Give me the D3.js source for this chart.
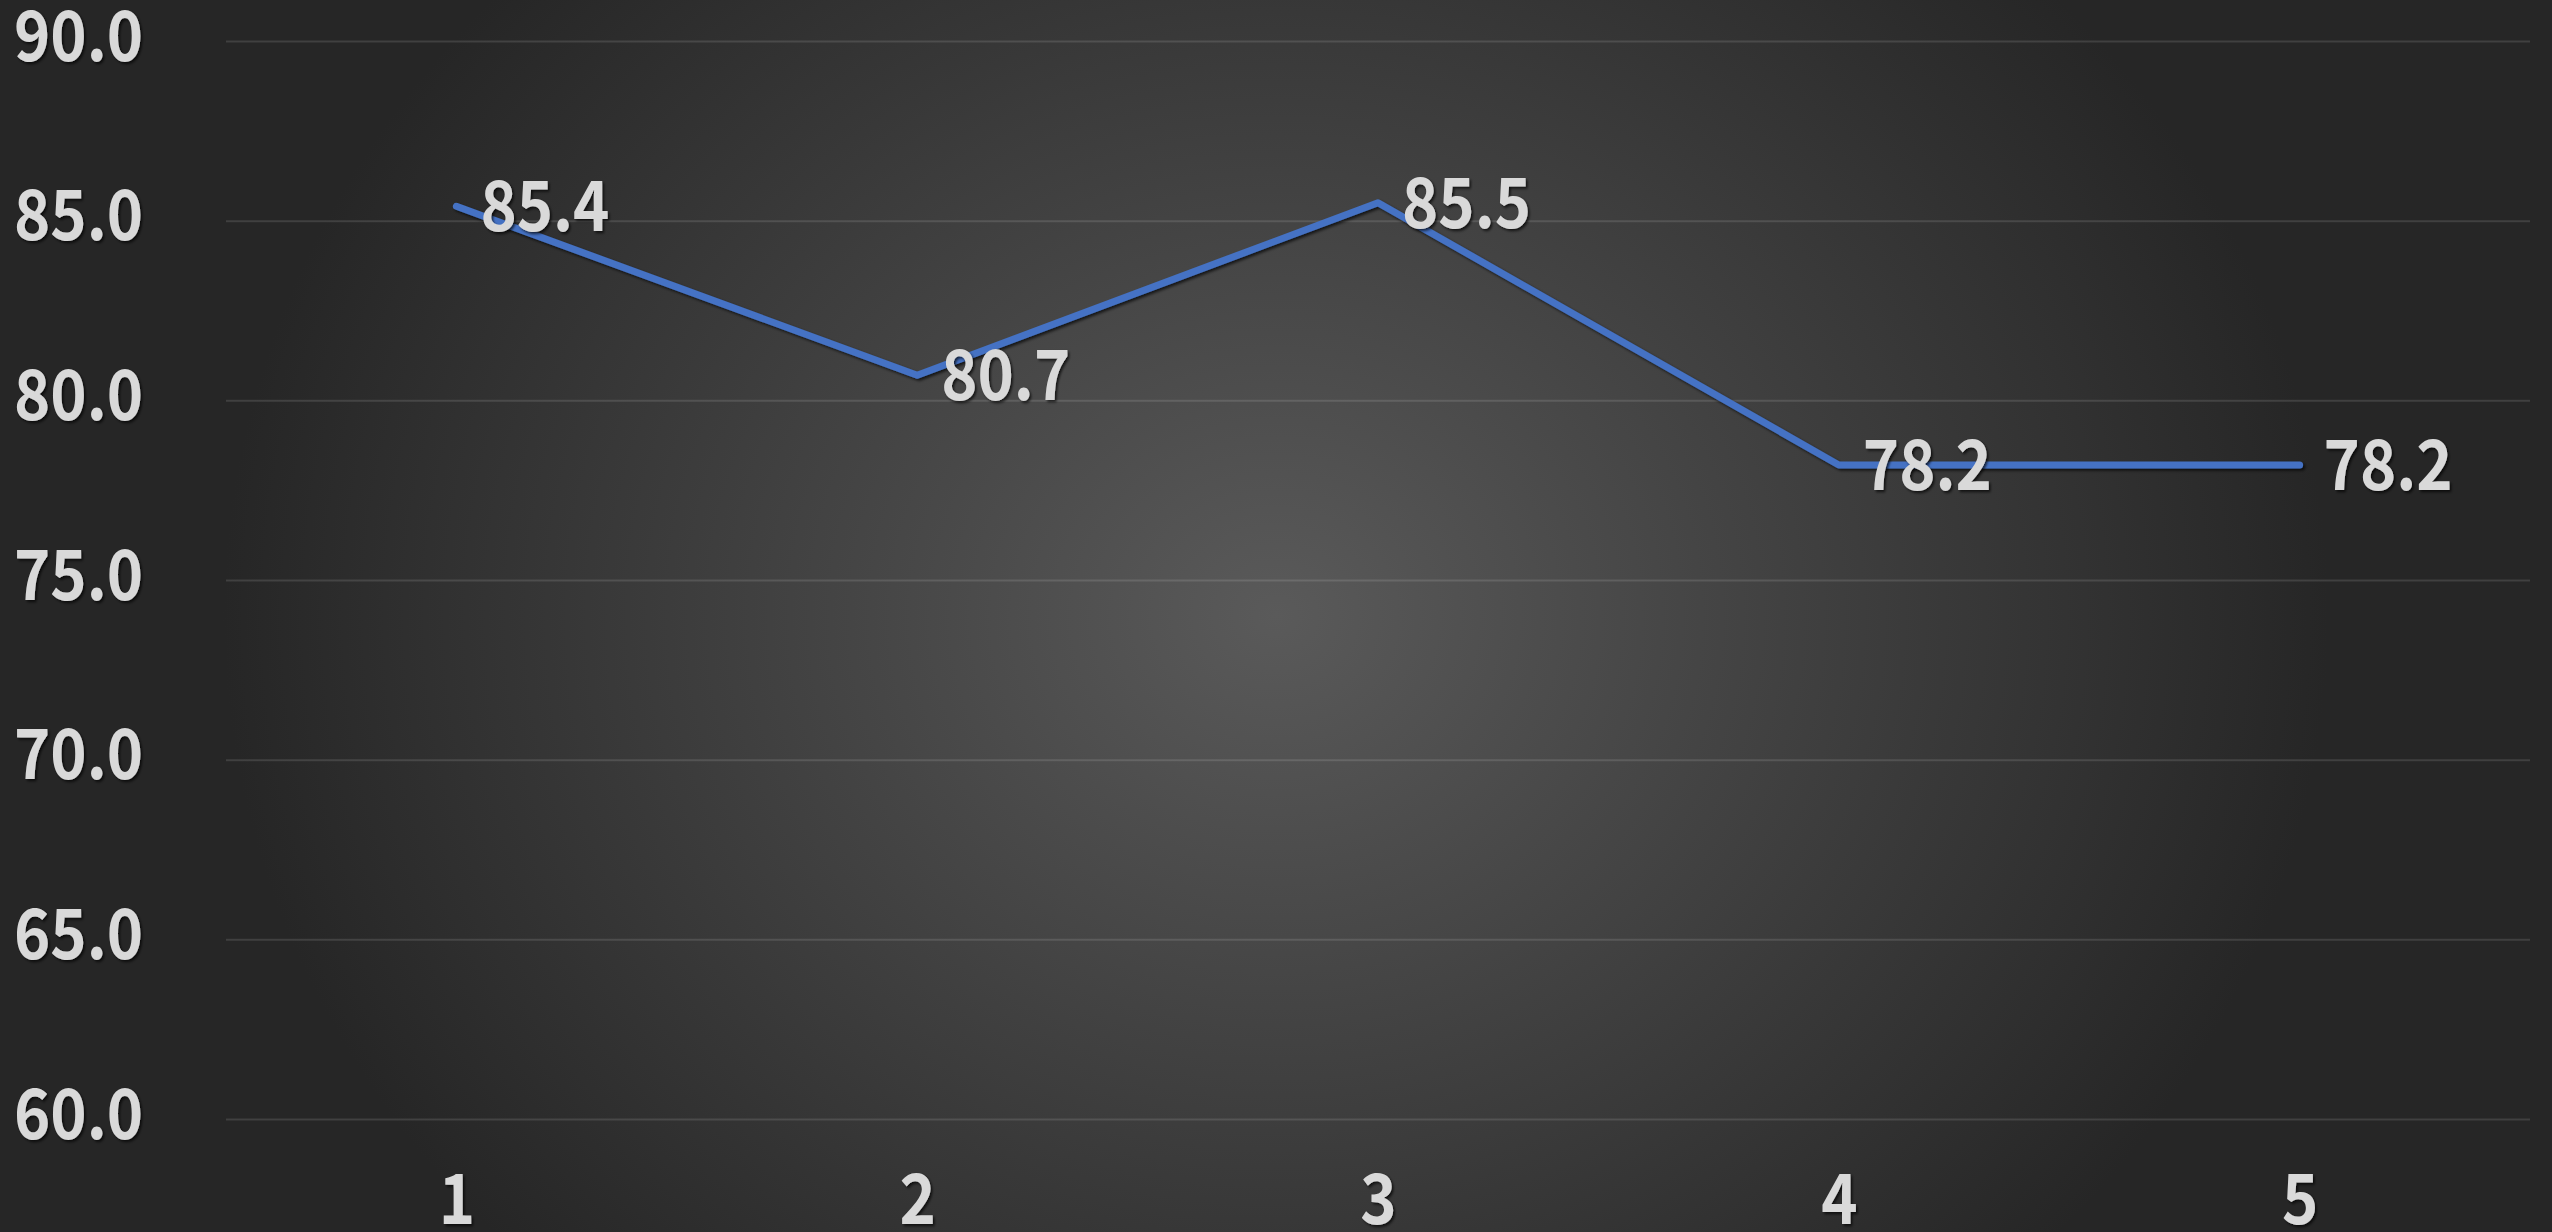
<!DOCTYPE html>
<html>
<head>
<meta charset="utf-8">
<script src="https://cdn.jsdelivr.net/npm/d3@7"></script>
<style>
  html, body { margin: 0; padding: 0; background: #2b2b2b; }
  #chart { width: 2552px; height: 1232px; }
</style>
</head>
<body>
<div id="chart"></div>
<script>
// data
var categories = ["1", "2", "3", "4", "5"];
var values = [85.4, 80.7, 85.5, 78.2, 78.2];
var y_ticks = [60, 65, 70, 75, 80, 85, 90];

var view_width = 2552;
var view_height = 1232;
var plot = {left: 226, right: 2530, top: 41, bottom: 1119};
var font = "'Noto Sans CJK JP', 'Noto Sans', sans-serif";
var squeeze = 'scale(0.88,1)';

var svg = d3.select('#chart')
    .append('svg')
        .attr('width', view_width)
        .attr('height', view_height);

var defs = svg.append('defs');

// radial background, lighter around the middle
var grad = defs.append('radialGradient')
    .attr('id', 'bg')
    .attr('cx', '0.5').attr('cy', '0.5').attr('r', '0.75')
    .attr('gradientTransform', 'translate(0.5,0.5) scale(0.55,1) translate(-0.5,-0.5)');
grad.append('stop').attr('offset', '0%').attr('stop-color', '#5a5a5a');
grad.append('stop').attr('offset', '100%').attr('stop-color', '#262626');

var shadow = defs.append('filter')
    .attr('id', 'shadow')
    .attr('x', '-10%').attr('y', '-10%').attr('width', '130%').attr('height', '140%');
shadow.append('feDropShadow')
    .attr('dx', 2).attr('dy', 2).attr('stdDeviation', 1.5)
    .attr('flood-color', '#000').attr('flood-opacity', 0.7);

svg.append('rect')
    .attr('width', view_width)
    .attr('height', view_height)
    .attr('fill', 'url(#bg)');

var x_scale = d3.scalePoint()
    .domain(categories)
    .range([plot.left, plot.right])
    .padding(0.5);
var y_scale = d3.scaleLinear()
    .domain([60, 90])
    .range([plot.bottom, plot.top]);

// gridlines
svg.append('g')
    .attr('class', 'grid')
    .attr('transform', 'translate(' + plot.left + ',0)')
    .call(d3.axisLeft(y_scale).tickValues(y_ticks).tickSize(-(plot.right - plot.left)).tickFormat(''))
    .call(function(g) { g.select('.domain').remove(); })
    .selectAll('line')
        .attr('stroke', '#ffffff')
        .attr('stroke-opacity', 0.12)
        .attr('stroke-width', 2);

// y axis labels
var y_axis = svg.append('g')
    .attr('transform', 'translate(143,0)')
    .call(d3.axisLeft(y_scale).tickValues(y_ticks).tickSize(0).tickPadding(0).tickFormat(d3.format('.1f')));
y_axis.select('.domain').remove();
y_axis.selectAll('text')
    .attr('fill', '#d9d9d9')
    .attr('font-family', font)
    .attr('font-size', 70)
    .attr('font-weight', 700)
    .attr('x', 0)
    .attr('dy', 19)
    .attr('transform', squeeze)
    .attr('filter', 'url(#shadow)');

// x axis labels
var x_axis = svg.append('g')
    .attr('transform', 'translate(0,1224)')
    .call(d3.axisBottom(x_scale).tickSize(0).tickPadding(0));
x_axis.select('.domain').remove();
x_axis.selectAll('text')
    .attr('fill', '#d9d9d9')
    .attr('font-family', font)
    .attr('font-size', 70)
    .attr('font-weight', 700)
    .attr('y', 0)
    .attr('dy', 0)
    .attr('transform', squeeze)
    .attr('filter', 'url(#shadow)');

var points = categories.map(function(c, i) { return {cat: c, value: values[i]}; });

var valueline = d3.line()
    .x(function(d) { return x_scale(d.cat); })
    .y(function(d) { return y_scale(d.value); });

svg.append('path')
    .datum(points)
    .attr('fill', 'none')
    .attr('stroke', '#4472C4')
    .attr('stroke-width', 7)
    .attr('stroke-linecap', 'round')
    .attr('stroke-linejoin', 'round')
    .attr('filter', 'url(#shadow)')
    .attr('d', valueline);

// data labels
svg.append('g')
    .selectAll('text')
    .data(points)
    .enter().append('text')
        .attr('transform', function(d) {
            return 'translate(' + (x_scale(d.cat) + 24) + ',' + (y_scale(d.value) + 25) + ') ' + squeeze;
        })
        .attr('fill', '#d9d9d9')
        .attr('font-family', font)
        .attr('font-size', 70)
        .attr('font-weight', 700)
        .attr('filter', 'url(#shadow)')
        .text(function(d) { return d3.format('.1f')(d.value); });
</script>
</body>
</html>
